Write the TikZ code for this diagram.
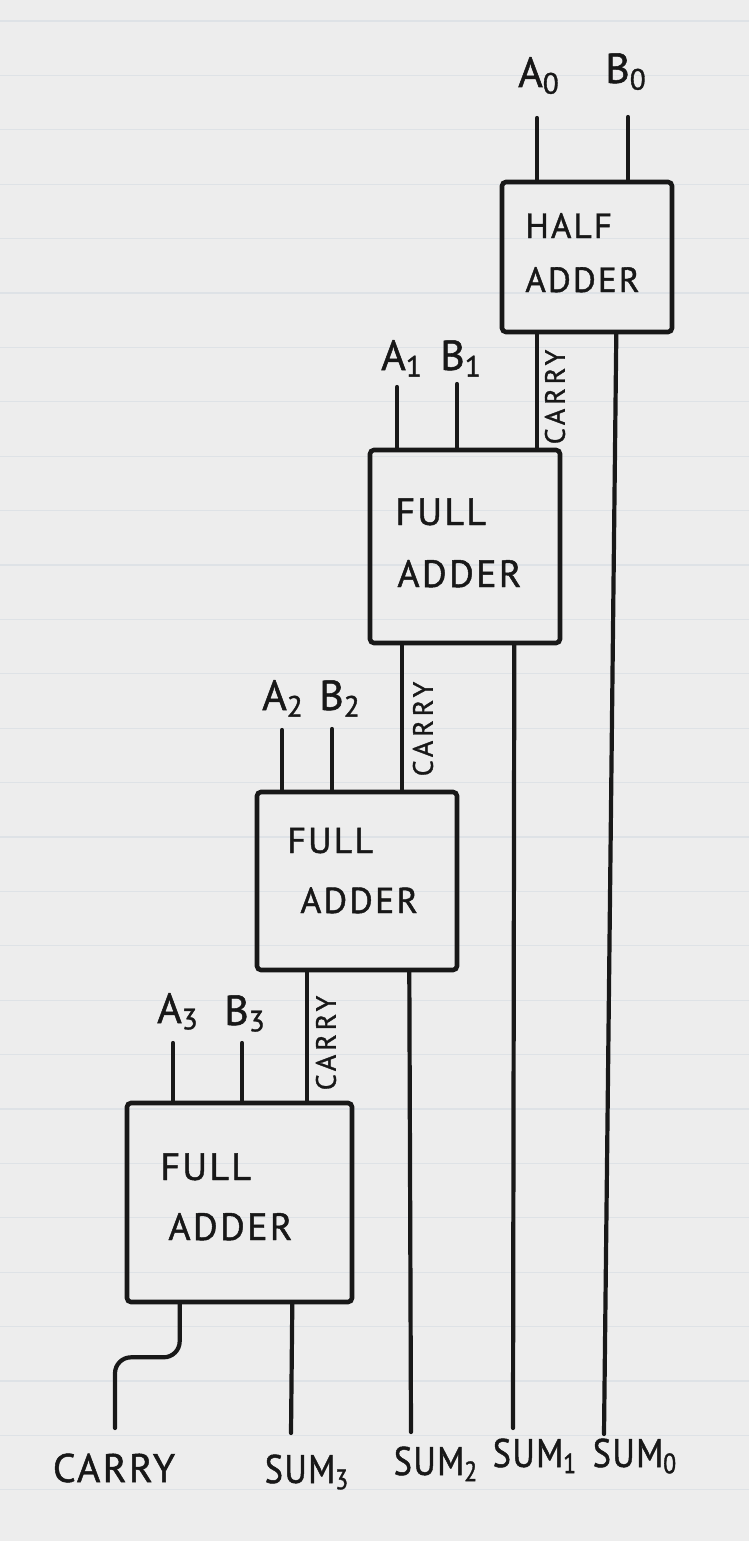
\documentclass[tikz,border=0pt]{standalone}
\usepackage{fontspec}
\setmainfont{PT Sans}
\newfontfamily\handfont[LetterSpace=6, FakeBold=1.2]{PT Sans}
\newfontfamily\tagfont[LetterSpace=14, FakeBold=1.2]{PT Sans}
\newfontfamily\narrowfont[FakeStretch=0.85, LetterSpace=4, FakeBold=1.2]{PT Sans}
\usetikzlibrary{fit}
\usetikzlibrary{calc}

\definecolor{paper}{RGB}{237,237,237}
\definecolor{rule}{RGB}{222,226,230}
\definecolor{ink}{RGB}{24,24,24}

\begin{document}
\begin{tikzpicture}[x=0.5pt, y=-0.5pt,
    wire/.style={draw=ink, line width=2.1pt, line cap=round},
    adder/.style={draw=ink, line width=2.3pt, rounded corners=2pt, inner sep=0pt},
    boxtext/.style={anchor=base west, text=ink, inner sep=0pt, font=\handfont\fontsize{#1}{#1}\selectfont},
    pin/.style={anchor=base, text=ink, inner sep=0pt, font=\handfont\fontsize{21}{21}\selectfont},
    carrytag/.style={rotate=90, text=ink, inner sep=0pt, font=\tagfont\fontsize{14}{14}\selectfont},
    outtag/.style={anchor=base, text=ink, inner sep=0pt, font=\handfont\fontsize{20}{20}\selectfont},
    sumtag/.style={anchor=base, text=ink, inner sep=0pt, font=\narrowfont\fontsize{20}{20}\selectfont}]

    % the lined paper
    \fill[paper] (0,0) rectangle (749,1541);
    \useasboundingbox (0,0) rectangle (749,1541);
    \foreach \i in {0,...,27}
        \draw[rule, line width=0.6pt] (0,21+54.4*\i) -- (749,21+54.4*\i);

    % the adders
    \node[adder, fit={(502,182) (672,332)}] (ha) {};
    \node[adder, fit={(370,450) (560,643)}] (fa1) {};
    \node[adder, fit={(257,792) (457,970)}] (fa2) {};
    \node[adder, fit={(127,1103) (352,1302)}] (fa3) {};

    \node[boxtext=17.5] (ha l1) at (525,238) {HALF};
    \node[boxtext=17.5] (ha l2) at (525,292) {ADDER};
    \node[boxtext=19] (fa1 l1) at (395,525) {FULL};
    \node[boxtext=19] (fa1 l2) at (397,587) {ADDER};
    \node[boxtext=18] (fa2 l1) at (287,853) {FULL};
    \node[boxtext=18] (fa2 l2) at (300,913) {ADDER};
    \node[boxtext=19] (fa3 l1) at (160,1180) {FULL};
    \node[boxtext=19] (fa3 l2) at (168,1240) {ADDER};

    % inputs A_i, B_i
    \foreach \n/\l/\s/\lx/\ly/\px/\py/\b in {
        a0/A/0/539/87/537/118/ha, b0/B/0/626/83/628/117/ha,
        a1/A/1/402/370/397/387/fa1, b1/B/1/461/370/457/384/fa1,
        a2/A/2/283/710/282/730/fa2, b2/B/2/340/710/332/729/fa2,
        a3/A/3/178/1023/173/1043/fa3, b3/B/3/245/1025/242/1043/fa3}
    {
        \node[pin] (\n) at (\lx,\ly) {\l\textsubscript{\s}};
        \coordinate (\n top) at (\px,\py);
        \draw[wire] (\n top) -- (\n top |- \b.north);
    }

    % carries between the stages
    \coordinate (c1) at (537,397);
    \coordinate (c2) at (402,729);
    \coordinate (c3) at (307,1043);
    \draw[wire] (c1 |- ha.south) -- (c1 |- fa1.north);
    \draw[wire] (c2 |- fa1.south) -- (c2 |- fa2.north);
    \draw[wire] (c3 |- fa2.south) -- (c3 |- fa3.north);
    \node[carrytag] (c1 tag) at (555,397) {CARRY};
    \node[carrytag] (c2 tag) at (423,729) {CARRY};
    \node[carrytag] (c3 tag) at (326,1043) {CARRY};

    % outputs
    \coordinate (cout) at (115,1428);
    \coordinate (s0) at (604,1434);
    \coordinate (s1) at (513,1428);
    \coordinate (s2) at (411,1432);
    \coordinate (s3) at (291,1433);
    \draw[wire, rounded corners=8pt] ($(fa3.south west)+(55,0)$) -- ++(0,53) -| (cout);
    \draw[wire] ($(fa3.south east)+(-62,0)$) -- (s3);
    \draw[wire] ($(fa2.south east)+(-50,0)$) -- (s2);
    \draw[wire] ($(fa1.south east)+(-48,0)$) -- (s1);
    \draw[wire] ($(ha.south east)+(-58,0)$) -- (s0);

    \node[outtag] (carry out) at (114,1482) {CARRY};
    \node[sumtag] (sum3) at (307,1483) {SUM\textsubscript{3}};
    \node[sumtag] (sum2) at (436,1475) {SUM\textsubscript{2}};
    \node[sumtag] (sum1) at (535,1467) {SUM\textsubscript{1}};
    \node[sumtag] (sum0) at (635,1467) {SUM\textsubscript{0}};
\end{tikzpicture}
\end{document}
